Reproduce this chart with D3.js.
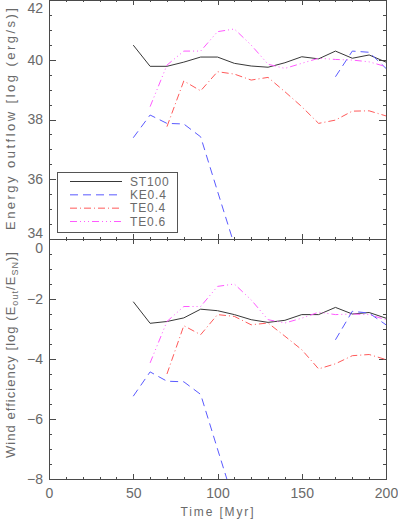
<!DOCTYPE html>
<html>
<head>
<meta charset="utf-8">
<script src="https://cdn.jsdelivr.net/npm/d3@7"></script>
<style>
  body { margin: 0; background: #fff; }
  text { font-family: "Liberation Sans", Arial, sans-serif; fill: #6a6a6a; }
  .axis path, .axis line { stroke: #4a4a4a; shape-rendering: crispEdges; }
</style>
</head>
<body>
<svg id="chart" width="398" height="521"></svg>
<script>
// time in Myr
var time = [50, 60, 70, 80, 90, 100, 110, 120, 130, 140, 150, 160, 170, 180, 190, 200];

// energy outflow, log (erg/s)
var st100E = [40.49, 39.78, 39.78, 39.92, 40.09, 40.09, 39.88, 39.79, 39.75, 39.90, 40.10, 40.03, 40.29, 40.05, 40.16, 39.92];
var ke04E  = [37.39, 38.15, 37.87, 37.85, 37.42, 35.60, 33.80, null, null, null, null, null, 39.43, 40.29, 40.25, 39.71];
var te04E  = [null, null, 37.76, 39.29, 38.96, 39.60, 39.52, 39.32, 39.41, 38.93, 38.43, 37.87, 37.98, 38.28, 38.29, 38.12];
var te06E  = [null, 38.43, 39.82, 40.29, 40.29, 40.94, 41.03, 40.49, 39.85, 39.71, 39.88, 40.05, 40.01, 39.99, 39.93, 39.77];

// wind efficiency, log (Eout/ESN)
var st100W = [-2.09, -2.81, -2.75, -2.63, -2.34, -2.39, -2.52, -2.69, -2.78, -2.71, -2.52, -2.52, -2.28, -2.50, -2.45, -2.64];
var ke04W  = [-5.24, -4.43, -4.74, -4.76, -5.18, -7.00, -8.80, null, null, null, null, null, -3.36, -2.41, -2.47, -2.86];
var te04W  = [null, null, -4.50, -2.89, -3.19, -2.52, -2.58, -2.86, -2.80, -3.24, -3.69, -4.33, -4.16, -3.89, -3.85, -4.02];
var te06W  = [null, -4.13, -2.75, -2.25, -2.25, -1.58, -1.50, -2.03, -2.69, -2.80, -2.64, -2.44, -2.52, -2.50, -2.52, -2.69];

var seriesNames = ["ST100", "KE0.4", "TE0.4", "TE0.6"];
var xTicks = [0, 50, 100, 150, 200];
var topTicks = [34, 36, 38, 40, 42];
var botTicks = [-8, -6, -4, -2, 0];

var colors = ["#383838", "#5a5aff", "#ff5a5a", "#ff5aff"];
var dashes = [null, "8,5", "7,3,1,3", "7,3,1,3,1,3,1,3"];

var svg = d3.select("#chart"),
    left = 49, right = 386;

var x = d3.scaleLinear().domain([0, 200]).range([left, right]);
var yTop = d3.scaleLinear().domain([34, 42]).range([239, 0]);
var yBot = d3.scaleLinear().domain([-8, 0]).range([479, 239]);

var minorX = d3.range(0, 201, 10).filter(function(v){ return v % 50 != 0; });

var drawPanel = function(y, majors, sets, id, nudge, showX){
  var y0 = y.range()[1], y1 = y.range()[0];
  var minorY = d3.range(y.domain()[0], y.domain()[1] + 0.01, 0.5).filter(function(v){ return v % 2 != 0; });

  // clip region
  svg.append("clipPath").attr("id", id)
    .append("rect").attr("x", left).attr("y", y0).attr("width", right - left).attr("height", y1 - y0);

  var ax = function(axis, tx, ty, labels){
    var g = svg.append("g").attr("class", "axis").attr("transform", "translate(" + tx + "," + ty + ")").call(axis);
    if(!labels) g.selectAll("text").remove();
    g.selectAll("text").style("font-size", "14px").attr("fill", "#6a6a6a");
    return g;
  };

  // left
  var gl = ax(d3.axisLeft(y).tickValues(majors).tickSizeInner(-6.7).tickSizeOuter(0).tickPadding(6)
    .tickFormat(function(d){ return d < 0 ? "\u2212" + Math.abs(d) : d; }), left, 0, true);
  gl.selectAll(".tick text").attr("dy", function(d){ return (0.32 + (nudge[d] || 0) / 14) + "em"; });
  ax(d3.axisLeft(y).tickValues(minorY).tickSizeInner(-3.4).tickSizeOuter(0).tickFormat(""), left, 0, false);
  // right
  ax(d3.axisRight(y).tickValues(majors).tickSizeInner(-6.7).tickSizeOuter(0), right, 0, false);
  ax(d3.axisRight(y).tickValues(minorY).tickSizeInner(-3.4).tickSizeOuter(0), right, 0, false);
  // top
  ax(d3.axisTop(x).tickValues(xTicks).tickSizeInner(-4.8).tickSizeOuter(0), 0, y0, false);
  ax(d3.axisTop(x).tickValues(minorX).tickSizeInner(-2.4).tickSizeOuter(0), 0, y0, false);
  // bottom
  ax(d3.axisBottom(x).tickValues(xTicks).tickSizeInner(-4.8).tickSizeOuter(0).tickPadding(9), 0, y1, showX);
  ax(d3.axisBottom(x).tickValues(minorX).tickSizeInner(-2.4).tickSizeOuter(0), 0, y1, false);

  var line = d3.line()
    .defined(function(d){ return d[1] != null; })
    .x(function(d){ return x(d[0]); })
    .y(function(d){ return y(d[1]); });

  var g = svg.append("g").attr("clip-path", "url(#" + id + ")");
  sets.forEach(function(vals, i){
    g.append("path")
      .datum(time.map(function(t, j){ return [t, vals[j]]; }))
      .attr("d", line)
      .attr("fill", "none")
      .attr("stroke", colors[i])
      .attr("stroke-width", 1)
      .attr("stroke-dasharray", dashes[i]);
  });
};

drawPanel(yTop, topTicks, [st100E, ke04E, te04E, te06E], "clipTop", {42: 8, 34: -6}, false);
drawPanel(yBot, botTicks, [st100W, ke04W, te04W, te06W], "clipBot", {0: 9.5}, true);

// titles
svg.append("text")
  .attr("transform", "translate(15,119) rotate(-90)")
  .attr("text-anchor", "middle")
  .style("font-size", "13px")
  .attr("textLength", 222).attr("lengthAdjust", "spacing")
  .text("Energy outflow [log (erg/s)]");

var wt = svg.append("text")
  .attr("transform", "translate(15,355) rotate(-90)")
  .attr("text-anchor", "middle")
  .style("font-size", "13px")
  .attr("textLength", 206).attr("lengthAdjust", "spacing");
wt.append("tspan").text("Wind efficiency [log (E");
wt.append("tspan").attr("dy", 3).style("font-size", "9px").text("out");
wt.append("tspan").attr("dy", -3).text("/E");
wt.append("tspan").attr("dy", 3).style("font-size", "9px").text("SN");
wt.append("tspan").attr("dy", -3).text(")]");

svg.append("text")
  .attr("x", 217).attr("y", 516)
  .attr("text-anchor", "middle")
  .style("font-size", "12px")
  .attr("textLength", 73).attr("lengthAdjust", "spacing")
  .text("Time [Myr]");

// legend
var lg = svg.append("g");
lg.append("rect")
  .attr("x", 57.5).attr("y", 172.5).attr("width", 120).attr("height", 60)
  .attr("fill", "#fff").attr("stroke", "#555").attr("stroke-width", 1);
var rowY = d3.scalePoint().domain(seriesNames).range([181.5, 221.5]);
seriesNames.forEach(function(n, i){
  lg.append("line")
    .attr("x1", 70).attr("x2", 122)
    .attr("y1", rowY(n)).attr("y2", rowY(n))
    .attr("stroke", colors[i]).attr("stroke-width", 1)
    .attr("stroke-dasharray", dashes[i]);
  lg.append("text")
    .attr("x", 130).attr("y", rowY(n)).attr("dy", "0.36em")
    .style("font-size", "12px").style("letter-spacing", "0.8px")
    .text(n);
});
</script>
</body>
</html>
